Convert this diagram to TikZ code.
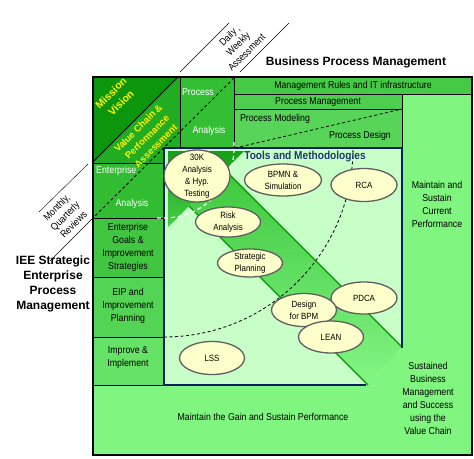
\documentclass[tikz,border=0pt]{standalone}
\usepackage{fontspec}
\setmainfont{Liberation Sans}
\newfontfamily\nrw[FakeStretch=0.88]{Liberation Sans}
\usetikzlibrary{shapes.geometric, positioning}

\definecolor{outergreen}{RGB}{128,245,128}
\definecolor{missiongreen}{RGB}{12,150,12}
\definecolor{valuegreen}{RGB}{34,172,34}
\definecolor{procgreen}{RGB}{52,190,52}
\definecolor{entgreen}{RGB}{50,188,50}
\definecolor{goalgreen}{RGB}{66,198,66}
\definecolor{eipgreen}{RGB}{84,212,84}
\definecolor{impgreen}{RGB}{102,226,102}
\definecolor{rulesgreen}{RGB}{70,202,70}
\definecolor{pmgreen}{RGB}{78,206,78}
\definecolor{modelgreen}{RGB}{88,212,88}
\definecolor{toolsgreen}{RGB}{200,255,200}
\definecolor{bandtop}{RGB}{62,200,62}
\definecolor{bandbot}{RGB}{132,245,132}
\definecolor{headtop}{RGB}{20,160,20}
\definecolor{headbot}{RGB}{70,205,70}
\definecolor{bandedge}{RGB}{0,150,0}
\definecolor{navy}{RGB}{0,32,96}
\definecolor{toolfill}{RGB}{255,255,204}
\definecolor{toolrim}{RGB}{95,95,95}
\definecolor{titleblue}{RGB}{31,56,110}

\tikzset{
  cell/.style={draw=black, line width=0.8pt},
  txt/.style={font=\nrw\fontsize{10}{13}\selectfont, align=center, inner sep=0pt},
  wtxt/.style={txt, text=white},
  ytxt/.style={text=yellow, align=center, rotate=45, inner sep=0pt},
  diag/.style={font=\nrw\fontsize{10}{12}\selectfont, align=center, rotate=45, inner sep=0pt},
  tool/.style={ellipse, draw=toolrim, line width=1.3pt, fill=toolfill, minimum width=65pt,
    minimum height=32pt, inner sep=0pt, align=center, font=\nrw\fontsize{9}{12}\selectfont},
  dashline/.style={line width=0.8pt, dash pattern=on 3pt off 2.5pt},
  whitedash/.style={white, line width=1.2pt, dash pattern=on 4pt off 3pt},
  bandline/.style={draw=bandedge, line width=1.3pt},
  rim/.style={draw=navy, line width=1.3pt},
  title/.style={font=\bfseries\fontsize{12}{15}\selectfont, align=center, inner sep=0pt}
}

\begin{document}
\begin{tikzpicture}[x=1pt,y=-1pt]
\useasboundingbox (0,0) rectangle (474,458);

% outer area
\fill[outergreen] (93,77) rectangle (472,455);

% mission / value chain corner
\fill[valuegreen] (93,77) rectangle (180,163);
\fill[missiongreen] (93,77) -- (178,77) -- (93,162) -- cycle;
\draw[cell] (93,77) rectangle (180,163);
\draw[cell] (93,162) -- (178,77);

% left column
\filldraw[cell, fill=procgreen] (180,77) rectangle (234,148);
\filldraw[cell, fill=entgreen] (93,163) rectangle (164,218);
\filldraw[cell, fill=goalgreen] (93,218) rectangle (164,277);
\filldraw[cell, fill=eipgreen] (93,277) rectangle (164,337);
\filldraw[cell, fill=impgreen] (93,337) rectangle (164,385);

% top rows
\filldraw[cell, fill=rulesgreen] (234,77) rectangle (472,94);
\filldraw[cell, fill=pmgreen] (234,94) rectangle (402,109);
\filldraw[cell, fill=modelgreen] (234,109) rectangle (402,148);

% tools box and the band
\fill[toolsgreen] (164,148) -- (402,148) -- (402,347) -- (368,385) -- (164,385) -- cycle;
\shade[top color=bandtop, bottom color=bandbot] (225,170) -- (402,347) -- (368,385) -- (189,206) -- cycle;
\shade[top color=headtop, bottom color=headbot] (168,151) -- (244,151) -- (168,227) -- cycle;
\draw[bandline] (225,170) -- (402,347);
\draw[bandline] (189,206) -- (368,385);
\draw[rim] (402,348) -- (402,148) -- (164,148) -- (164,385) -- (366,385);

% dashed borders
\draw[dashline] (234,78) -- (93,218);
\draw[dashline] (235,148) -- (402,109);
\draw[dashline] (164,337) arc[start angle=90, end angle=0, radius=189];
\draw[whitedash] (157,218) -- (164,218) arc[start angle=90, end angle=0, radius=70] -- (234,141);

% frame
\draw[line width=1.3pt] (93,77) rectangle (472,455);

% cell texts
\node[ytxt, font=\bfseries\fontsize{10.5}{14}\selectfont] (mission) at (116,98) {Mission\\Vision};
\node[ytxt, font=\bfseries\fontsize{9.5}{12.5}\selectfont] (valuechain) at (147,137) {Value Chain \&\\Performance\\Assessment};
\node[wtxt] (procA) at (198,92) {Process};
\node[wtxt] (procB) at (209,131) {Analysis};
\node[wtxt, anchor=west] (entA) at (96,171) {Enterprise};
\node[wtxt] (entB) at (132,204) {Analysis};
\node[txt] (goals) at (128,247) {Enterprise\\Goals \&\\Improvement\\Strategies};
\node[txt] (eip) at (128,306) {EIP and\\Improvement\\Planning};
\node[txt] (improve) at (128,358) {Improve \&\\Implement};
\node[txt] (rules) at (353,86) {Management  Rules and IT infrastructure};
\node[txt] (procMgmt) at (318,102) {Process Management};
\node[txt] (procModel) at (275,119) {Process Modeling};
\node[txt] (procDesign) at (360,136) {Process Design};
\node[txt] (maintainCur) at (437,204) {Maintain and\\Sustain\\Current\\Performance};
\node[txt] (maintainGain) at (263,417) {Maintain the Gain and Sustain Performance};
\node[txt] (sustained) at (428,398) {Sustained\\Business\\Management\\and Success\\using the\\Value Chain};
\node[inner sep=0pt, text=titleblue, font=\nrw\bfseries\fontsize{11.5}{13}\selectfont] (tools) at (305,157) {Tools and Methodologies};

% tools
\node[tool, minimum width=66pt, minimum height=52pt, inner ysep=-4.5pt] (k30) at (197,176) {30K\\Analysis\\\& Hyp.\\Testing};
\node[tool, minimum width=77pt] (bpmn) at (283,180) {BPMN \&\\Simulation};
\node[tool, minimum width=66pt, minimum height=33pt] (rca) at (364,185) {RCA};
\node[tool, minimum height=30pt, inner ysep=-1pt] (risk) at (228,222) {Risk\\Analysis};
\node[tool, minimum height=28pt, inner ysep=-1.5pt] (strat) at (250,263) {Strategic\\Planning};
\node[tool, minimum width=66pt] (pdca) at (364,298) {PDCA};
\node[tool, minimum height=33pt] (dfbpm) at (304,310) {Design\\for BPM};
\node[tool] (lean) at (331,337) {LEAN};
\node[tool, minimum height=33pt] (lss) at (212,358) {LSS};

% outside labels
\node[title] (bpmTitle) at (356,62) {Business Process Management};
\node[title] (ieeTitle) at (53,284) {IEE Strategic\\Enterprise\\Process\\Management};
\draw (180,72) -- (229,23);
\draw (240,72) -- (289,23);
\node[diag] (daily) at (238,44) {Daily ,\\Weekly\\Assessment};
\draw (39,212) -- (88,164);
\draw (50,261) -- (92,219);
\node[diag] (monthly) at (65,216) {Monthly,\\Quarterly\\Reviews};
\end{tikzpicture}
\end{document}
